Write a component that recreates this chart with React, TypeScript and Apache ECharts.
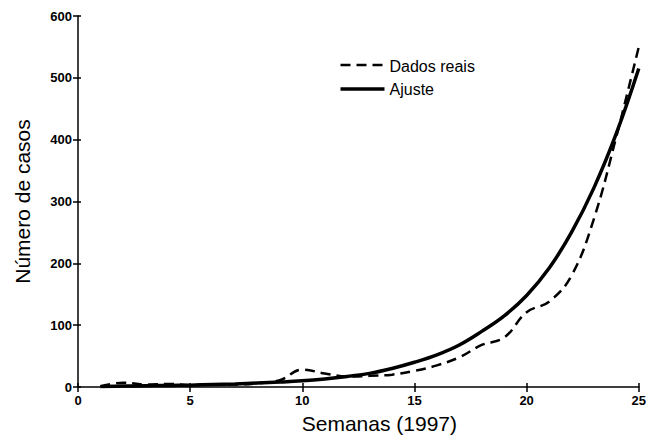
import React, { useEffect, useRef } from "react";
import * as echarts from "echarts";

const weeks = [1, 2, 3, 4, 5, 6, 7, 8, 9, 10, 11, 12, 13, 14, 15, 16, 17, 18, 19, 20, 21, 22, 23, 24, 25];
const realCases = [1, 7, 4, 5, 3, 4, 4, 6, 11, 28, 22, 17, 18, 20, 26, 35, 48, 68, 80, 121, 138, 180, 272, 405, 550];
const fittedCases = [1, 1.5, 2, 2.5, 3, 4, 5, 6.5, 8, 10, 13, 17, 22, 30, 40, 52, 68, 90, 115, 148, 192, 250, 322, 410, 515];

const seriesNames = ["Dados reais", "Ajuste"];
const xAxisTitle = "Semanas (1997)";
const yAxisTitle = "Número de casos";
const xMin = 0;
const xMax = 25;
const xStep = 5;
const yMin = 0;
const yMax = 600;
const yStep = 100;

const FONT = "'Liberation Sans', Arial, Helvetica, sans-serif";

export default function App() {
  const ref = useRef<HTMLDivElement>(null);

  useEffect(() => {
    if (!ref.current) return;
    const chart = echarts.init(ref.current, undefined, { renderer: "svg" });
    const axisLineStyle = { color: "#000", width: 1.5 };
    const tickLabel = { color: "#000", fontWeight: "bold" as const, fontSize: 13, fontFamily: FONT };
    const dashStyle = { color: "#000", width: 2.5, type: [10, 6] };
    const solidStyle = { color: "#000", width: 3.5, type: "solid" };

    chart.setOption({
      animation: false,
      backgroundColor: "#fff",
      textStyle: { fontFamily: FONT },
      grid: { left: 78, right: 7, top: 16, bottom: 53, containLabel: false },
      graphic: [
        {
          type: "group",
          left: 338,
          top: 58,
          children: [
            {
              type: "line",
              shape: { x1: 0, y1: 7, x2: 44, y2: 7 },
              style: { stroke: "#000", lineWidth: 2.5, lineDash: [10, 6] },
            },
            {
              type: "text",
              x: 49,
              y: 8,
              style: { text: seriesNames[0], fill: "#000", font: `16px ${FONT}`, verticalAlign: "middle" },
            },
            {
              type: "line",
              shape: { x1: 0, y1: 31, x2: 44, y2: 31 },
              style: { stroke: "#000", lineWidth: 3.5 },
            },
            {
              type: "text",
              x: 49,
              y: 31,
              style: { text: seriesNames[1], fill: "#000", font: `16px ${FONT}`, verticalAlign: "middle" },
            },
          ],
        },
      ],
      xAxis: [
        {
          type: "value",
          min: xMin,
          max: xMax,
          interval: xStep,
          position: "bottom",
          axisLine: { show: true, lineStyle: axisLineStyle },
          axisTick: { show: true, inside: false, length: 5, lineStyle: axisLineStyle },
          axisLabel: { ...tickLabel, margin: 7 },
          splitLine: { show: false },
          name: xAxisTitle,
          nameLocation: "middle",
          nameGap: 26,
          nameTextStyle: { color: "#000", fontSize: 21, fontFamily: FONT, padding: [0, 0, 0, 42] },
        },
        {
          type: "value",
          min: xMin,
          max: xMax,
          interval: xStep,
          position: "bottom",
          axisLine: { show: false },
          axisTick: { show: true, inside: true, length: 4, lineStyle: axisLineStyle },
          axisLabel: { show: false },
          splitLine: { show: false },
        },
      ],
      yAxis: [
        {
          type: "value",
          min: yMin,
          max: yMax,
          interval: yStep,
          position: "left",
          axisLine: { show: true, lineStyle: axisLineStyle },
          axisTick: { show: true, inside: false, length: 5, lineStyle: axisLineStyle },
          axisLabel: { ...tickLabel, margin: 6 },
          splitLine: { show: false },
          name: yAxisTitle,
          nameLocation: "middle",
          nameGap: 45,
          nameTextStyle: { color: "#000", fontSize: 21, fontFamily: FONT },
        },
        {
          type: "value",
          min: yMin,
          max: yMax,
          interval: yStep,
          position: "left",
          axisLine: { show: false },
          axisTick: { show: true, inside: true, length: 3, lineStyle: axisLineStyle },
          axisLabel: { show: false },
          splitLine: { show: false },
        },
      ],
      series: [
        {
          name: seriesNames[0],
          type: "line",
          xAxisIndex: 0,
          yAxisIndex: 0,
          data: weeks.map((w, i) => [w, realCases[i]]),
          smooth: 0.4,
          symbol: "none",
          lineStyle: dashStyle,
          itemStyle: { color: "#000" },
          z: 3,
        },
        {
          name: seriesNames[1],
          type: "line",
          xAxisIndex: 0,
          yAxisIndex: 0,
          data: weeks.map((w, i) => [w, fittedCases[i]]),
          smooth: 0.4,
          symbol: "none",
          lineStyle: solidStyle,
          itemStyle: { color: "#000" },
          z: 2,
        },
      ],
    });
    return () => chart.dispose();
  }, []);

  return (
    <div
      ref={ref}
      style={{ position: "fixed", left: 0, top: 0, width: 649, height: 440, background: "#fff" }}
    />
  );
}
